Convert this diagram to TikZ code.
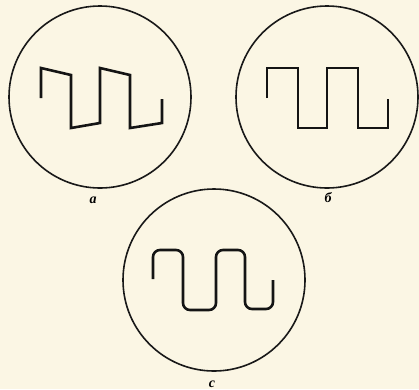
\documentclass[tikz,border=0pt]{standalone}
\usepackage{fontspec}
\setmainfont{Liberation Serif}
\begin{document}
\begin{tikzpicture}[x=1pt,y=-1pt,
  scope/.style={draw=black!90, line width=1.6pt},
  wave/.style={draw=black!92, line width=2.6pt, line join=miter},
  lbl/.style={font=\bfseries\itshape\fontsize{14}{14}\selectfont, inner sep=0pt}]
\fill[fill={rgb,255:red,251;green,246;blue,228}] (0,0) rectangle (419,389);
\useasboundingbox (0,0) rectangle (419,389);
% scopes
\draw[scope] (100,97) circle (91);
\draw[scope] (327,97) circle (91);
\draw[scope] (214,280) circle (91);
% waveform a (sloped tops)
\draw[wave] (41,98) -- (41,68) -- (71,75) -- (71,128) -- (100,123) -- (100,68)
  -- (130,75) -- (130,128) -- (162,123) -- (162,99);
% waveform b (ideal square)
\draw[wave] (267,98) -- (267,68) -- (298,68) -- (298,128) -- (327,128) -- (327,68)
  -- (358,68) -- (358,128) -- (388,128) -- (388,99);
% waveform c (rounded)
\draw[wave, rounded corners=7pt] (153,279) -- (153,250) -- (183,250) -- (183,310)
  -- (216,310) -- (216,250) -- (245,250) -- (245,309) -- (273,309) -- (273,280);
% labels
\node[lbl] (la) at (93,200) {a};
\node[lbl] (lb) at (328,198) {б};
\node[lbl] (lc) at (212,384) {c};
\end{tikzpicture}
\end{document}
